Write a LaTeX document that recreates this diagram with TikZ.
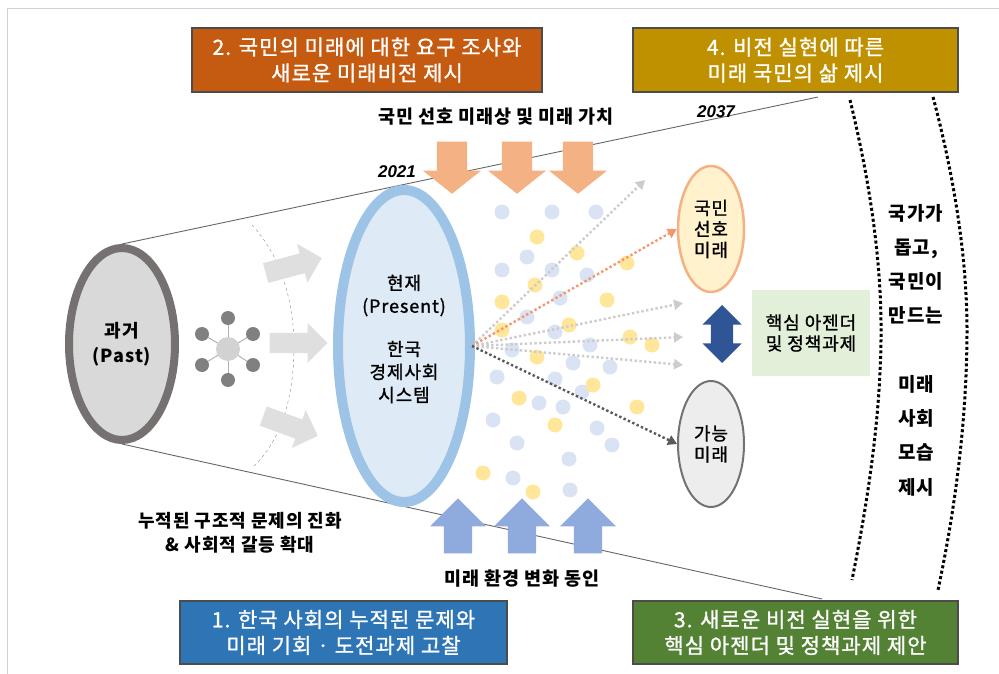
\documentclass[tikz,border=0pt]{standalone}
\usepackage{fontspec}
\setmainfont{Noto Sans CJK KR}[LetterSpace=5,UprightFeatures={FakeBold=1.2}]
\newfontfamily\yearfont{Liberation Sans}
\usetikzlibrary{shapes.geometric,shapes.arrows,arrows.meta,backgrounds}
\definecolor{orangebox}{HTML}{C55A11}
\definecolor{goldbox}{HTML}{BF9000}
\definecolor{bluebox}{HTML}{2E75B6}
\definecolor{greenbox}{HTML}{548235}
\definecolor{pastring}{HTML}{767171}
\definecolor{pastfill}{HTML}{D9D9D9}
\definecolor{nowring}{HTML}{9DC3E6}
\definecolor{nowfill}{HTML}{DEEBF7}
\definecolor{prefring}{HTML}{F4B183}
\definecolor{preffill}{HTML}{FFF2CC}
\definecolor{possfill}{HTML}{EDEDED}
\definecolor{agendafill}{HTML}{E2F0D9}
\definecolor{darkarrow}{HTML}{2F5597}
\definecolor{upblue}{HTML}{8FAADC}
\definecolor{dotblue}{HTML}{DAE3F3}
\definecolor{dotyellow}{HTML}{FFE699}

\begin{document}
\begin{tikzpicture}[x=1pt,y=-1pt,
  titlebox/.style={draw=black!70,line width=1.2pt,text=white,align=center,inner sep=0pt,
    font=\fontsize{21}{26}\selectfont},
  label/.style={font=\bfseries\fontsize{18.5}{24}\selectfont,align=center},
  year/.style={font=\yearfont\bfseries\itshape\fontsize{17}{17}\selectfont},
  period/.style={ellipse,inner sep=0pt,align=center,font=\fontsize{18}{21}\selectfont},
  fan/.style={line width=2.4pt,dash pattern=on 2.4pt off 2.4pt,-{Triangle[length=9pt,width=10pt]}},
  bigarrow/.style={single arrow,anchor=tip,inner xsep=0pt,draw=none},
  bigdot/.style={line width=3pt,dash pattern=on 3pt off 2.5pt}]
\useasboundingbox (0,0) rectangle (999,674);
\draw[gray!35,line width=0.6pt] (7,674) -- (7,8) -- (999,8);

\node[titlebox,fill=orangebox,minimum width=350pt,minimum height=64pt] (t2) at (367,60) {2. 국민의 미래에 대한 요구 조사와\\새로운 미래비전 제시};
\node[titlebox,fill=goldbox,minimum width=325pt,minimum height=64pt] (t4) at (795.5,60) {4. 비전 실현에 따른\\미래 국민의 삶 제시};
\node[titlebox,fill=bluebox,minimum width=327pt,minimum height=63pt] (t1) at (343.5,632.5) {1. 한국 사회의 누적된 문제와\\미래 기회 · 도전과제 고찰};
\node[titlebox,fill=greenbox,minimum width=325pt,minimum height=63pt] (t3) at (795.5,632.5) {3. 새로운 비전 실현을 위한\\핵심 아젠더 및 정책과제 제안};

\node[label] (values) at (496,117) {국민 선호 미래상 및 미래 가치};
\node[label] (drivers) at (522,579) {미래 환경 변화 동인};
\node[label,font=\bfseries\fontsize{18}{24}\selectfont] (issues) at (240,533) {누적된 구조적 문제의 진화\\\& 사회적 갈등 확대};
\node[year] (y21) at (397,172) {2021};
\node[year] (y37) at (716,112) {2037};

\foreach \x/\y in {502/212,552/212,596/212,527/257,502/270,552/270,587/275,560/298,527/317,
  555/332,590/345,512/350,573/363,610/367,497/377,555/379,582/392,539/403,563/407,493/420,
  597/428,517/443,612/445,569/459,513/478,570/490}
  \fill[dotblue] (\x,\y) circle[radius=7.5pt];
\foreach \x/\y in {537/237,577/253,627/263,535/285,502/302,607/300,569/325,502/330,630/337,
  652/345,537/357,593/385,519/398,637/407,555/425,483/473,533/492}
  \fill[dotyellow] (\x,\y) circle[radius=7.5pt];

\node[period,draw=pastring,fill=pastfill,line width=8pt,minimum width=106pt,minimum height=192pt,
  font=\bfseries\fontsize{18}{25}\selectfont] (past) at (122,344) {과거\\(Past)};
\node[period,draw=nowring,fill=nowfill,line width=10pt,minimum width=132pt,minimum height=312pt] (now) at (404,346) {};
\node[align=center,font=\fontsize{18}{23}\selectfont] (nowtext) at (404,339) {현재\\(Present)\\[20pt]한국\\경제사회\\시스템};
\node[period,draw=prefring,fill=preffill,line width=2.5pt,minimum width=66pt,minimum height=126pt] (pref) at (711,229) {국민\\선호\\미래};
\node[period,draw=pastring,fill=possfill,line width=2pt,minimum width=66pt,minimum height=126pt] (poss) at (711,444) {가능\\미래};

\begin{scope}[on background layer]
\coordinate (l37) at (818,97);
\coordinate (lend) at (822,599);
\draw[black!60,line width=0.9pt] (past.north) -- (l37);
\draw[black!60,line width=0.9pt] (past.south) -- (lend);
\end{scope}

\draw[black!45,dashed] (252,225) .. controls (280,255) and (294,300) .. (294,347) .. controls (294,395) and (282,440) .. (253,467);

\coordinate (hub) at (228,349);
\foreach \x/\y [count=\i] in {228/318,253/334,253/365,228/380,202/365,202/334} {
  \draw[gray!60,line width=1pt] (hub) -- (\x,\y);
  \fill[black!50] (\x,\y) circle[radius=7pt];
}
\fill[gray!35] (hub) circle[radius=12pt];

\node[bigarrow,fill=gray!25,minimum height=58pt,inner ysep=10pt,single arrow head extend=10pt,rotate=15] (g1) at (322,258) {};
\node[bigarrow,fill=gray!25,minimum height=58pt,inner ysep=10pt,single arrow head extend=10pt] (g2) at (328,343) {};
\node[bigarrow,fill=gray!25,minimum height=58pt,inner ysep=10pt,single arrow head extend=10pt,rotate=-20] (g3) at (318,436) {};

\foreach \x [count=\i] in {452,517,578}
  \node[bigarrow,fill=prefring,minimum height=52pt,inner ysep=15pt,single arrow head extend=14pt,
    single arrow tip angle=103,rotate=-90] (down\i) at (\x,194) {};
\foreach \x [count=\i] in {458,522,588}
  \node[bigarrow,fill=upblue,minimum height=55pt,inner ysep=14pt,single arrow head extend=14pt,rotate=90] (up\i) at (\x,498) {};

\coordinate (fan) at (472,346);
\coordinate (f1) at (645,180);
\coordinate (f3) at (683,303);
\coordinate (f4) at (683,337);
\coordinate (f5) at (683,365);
\draw[fan,gray!40] (fan) -- (f1);
\draw[fan,gray!40] (fan) -- (f3);
\draw[fan,gray!40] (fan) -- (f4);
\draw[fan,gray!40] (fan) -- (f5);
\draw[fan,prefring!85!red] (fan) -- (pref.west);
\draw[fan,black!65] (fan) -- (poss.west);

\node[double arrow,rotate=90,fill=darkarrow,minimum height=58pt,inner xsep=0pt,inner ysep=11pt,
  double arrow head extend=8.5pt] (updown) at (722,334) {};
\node[fill=agendafill,minimum width=118pt,minimum height=86pt,align=center,inner sep=0pt,
  font=\fontsize{18}{21}\selectfont] (agenda) at (811,333) {핵심 아젠더\\및 정책과제};

\draw[bigdot] (850,100) .. controls (872,190) and (882,270) .. (881,340) .. controls (880,420) and (868,500) .. (852,580);
\draw[bigdot] (933,97) .. controls (955,180) and (967,260) .. (967,330) .. controls (967,420) and (955,510) .. (938,590);
\node[label,font=\bfseries\fontsize{19}{34.3}\selectfont] (col) at (916,350) {국가가\\돕고,\\국민이\\만드는\\[34pt]미래\\사회\\모습\\제시};
\end{tikzpicture}
\end{document}
